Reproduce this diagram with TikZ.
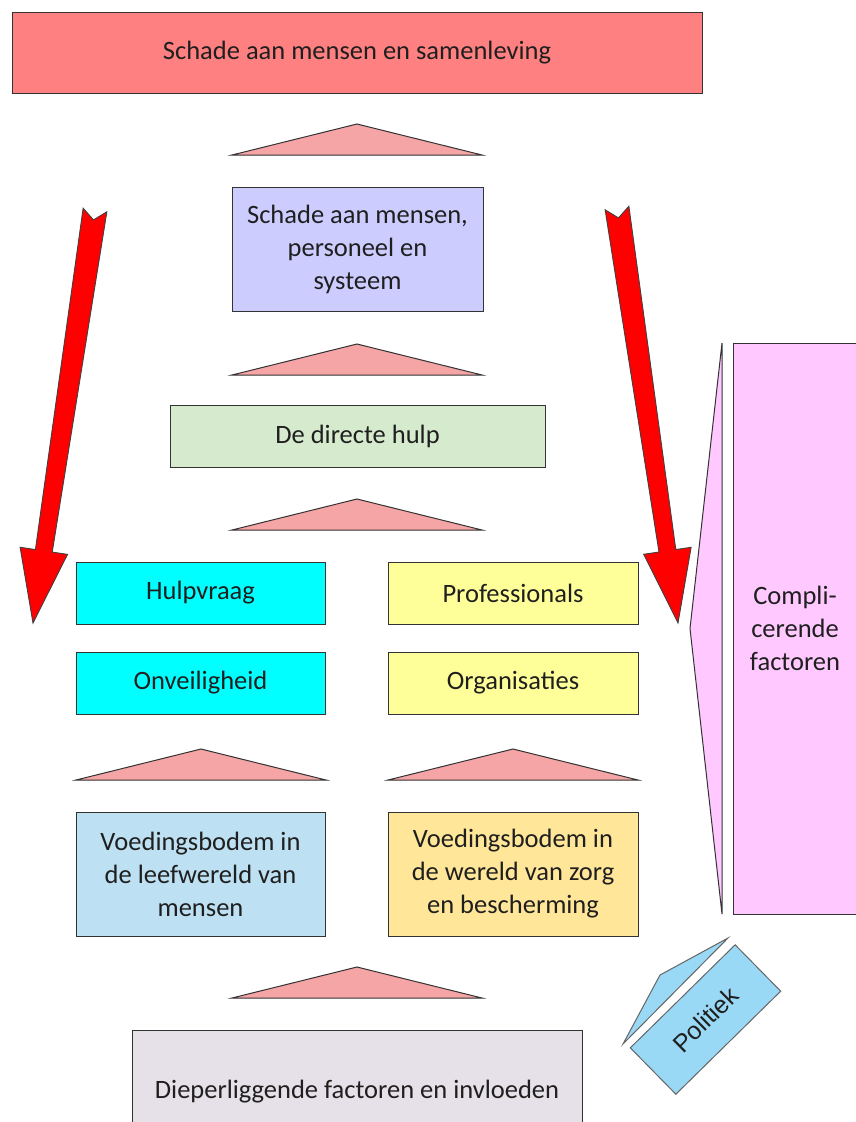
\documentclass[tikz,border=0pt]{standalone}
\usepackage{fontspec}
\setmainfont{Carlito}
\newfontfamily\arialfont{Liberation Sans}
\usetikzlibrary{calc}
\definecolor{harmred}{RGB}{255,128,128}
\definecolor{harmlavender}{RGB}{204,204,255}
\definecolor{helpgreen}{RGB}{214,235,205}
\definecolor{askcyan}{RGB}{0,255,255}
\definecolor{proyellow}{RGB}{255,255,153}
\definecolor{soilblue}{RGB}{189,224,242}
\definecolor{soilorange}{RGB}{255,230,153}
\definecolor{deepgrey}{RGB}{230,224,232}
\definecolor{complpink}{RGB}{255,200,255}
\definecolor{politicsblue}{RGB}{153,217,245}
\definecolor{trirose}{RGB}{245,165,165}
\definecolor{arrowred}{RGB}{255,0,0}

\begin{document}
\begin{tikzpicture}[
  x=1pt, y=-1pt,
  box/.style={rectangle, draw=black!80, line width=1pt, text=black!88, align=center, inner sep=0pt, font=\fontsize{26.5}{33}\selectfont},
  uptri/.style={draw=black!80, line width=1pt, fill=trirose, line join=miter},
  bigarrow/.style={draw=black!75, line width=0.9pt, fill=arrowred, line join=miter}
]
\useasboundingbox (0,0) rectangle (856,1122);

% Upward triangles between the levels
\foreach \cx/\by in {357/155, 357/375, 357/530, 201/780, 513/780, 357/998}
  \draw[uptri] (\cx-125,\by) -- (\cx,\by-31) -- (\cx+125,\by) -- cycle;

% Levels, top to bottom
\node[box, fill=harmred, minimum width=690, minimum height=81] (harm) at (357,52.5) {Schade aan mensen en samenleving};
\node[box, fill=harmlavender, minimum width=251, minimum height=124] (damage) at (357.5,249) {Schade aan mensen,\\personeel en\\systeem};
\node[box, fill=helpgreen, minimum width=375, minimum height=62] (help) at (357.5,436) {De directe hulp};
\node[box, fill=askcyan, minimum width=249, minimum height=62] (ask) at (200.5,593) {Hulpvraag};
\node[box, fill=askcyan, minimum width=249, minimum height=62] (unsafe) at (200.5,683) {Onveiligheid};
\node[box, fill=proyellow, minimum width=250, minimum height=62] (pros) at (513,593) {Professionals};
\node[box, fill=proyellow, minimum width=250, minimum height=62] (orgs) at (513,683) {Organisaties};
\node[box, fill=soilblue, minimum width=249, minimum height=124] (soilleft) at (200.5,874) {Voedingsbodem in\\de leefwereld van\\mensen};
\node[box, fill=soilorange, minimum width=250, minimum height=124] (soilright) at (513,874) {Voedingsbodem in\\de wereld van zorg\\en bescherming};
\node[box, fill=deepgrey, minimum width=450, minimum height=124] (deep) at (357,1092) {Dieperliggende factoren en invloeden};

% Side factors
\node[box, fill=complpink, minimum width=124, minimum height=571] (compl) at (795,628.5) {Compli-\\cerende\\factoren};
\draw[uptri, fill=complpink] (722,343) -- (690,628.5) -- (722,914) -- cycle;
\node[box, fill=politicsblue, draw=black!60, minimum width=147, minimum height=65, rotate=44.5, font=\arialfont\fontsize{25}{30}\selectfont] (politics) at (705.5,1019.5) {Politiek};
\draw[uptri, fill=politicsblue, draw=black!60] (623,1044) -- (660,975) -- (728,938) -- cycle;

% Red arrows
\coordinate (ltail) at (95,210);
\coordinate (ltip) at (33,623);
\coordinate (rtail) at (617,208);
\coordinate (rtip) at (678,623);
\foreach \t/\p in {ltail/ltip, rtail/rtip} {
  \coordinate (head) at ($(\p)!73pt!(\t)$);
  \draw[bigarrow] ($(\t)!12pt!90:(\p)$) -- ($(head)!8.5pt!90:(\p)$) -- ($(head)!24pt!90:(\p)$) -- (\p)
    -- ($(head)!24pt!-90:(\p)$) -- ($(head)!8.5pt!-90:(\p)$) -- ($(\t)!12pt!-90:(\p)$) -- ($(\t)!10pt!(\p)$) -- cycle;
}

\end{tikzpicture}
\end{document}
